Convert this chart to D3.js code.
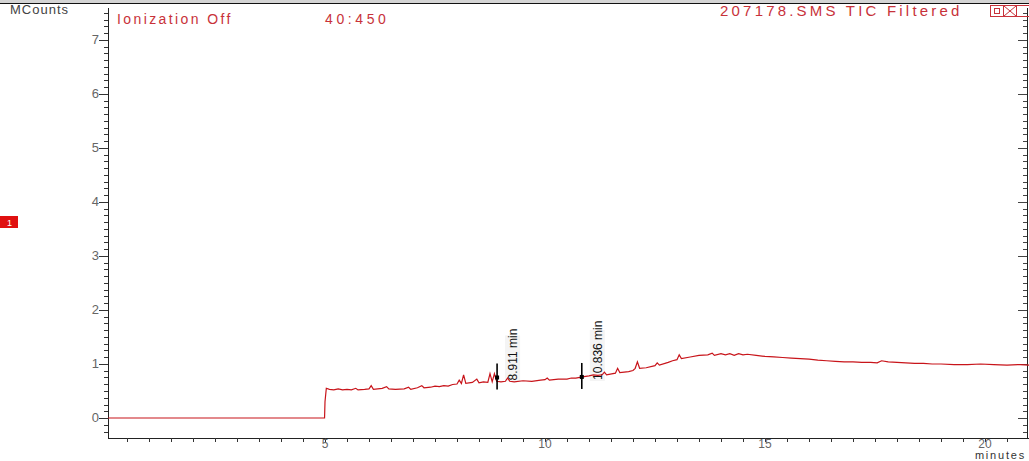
<!DOCTYPE html>
<html><head><meta charset="utf-8">
<script src="https://cdn.jsdelivr.net/npm/d3@7"></script>
<style>
html,body{margin:0;padding:0;background:#fff;}
svg{display:block;font-family:"Liberation Sans",Arial,sans-serif;}
</style></head>
<body><svg id="c" width="1029" height="461"></svg>
<script>
// ---- data ----
const times = [0.07,4.99,5.00,5.03,5.1,5.2,5.3,5.4,5.5,5.6,5.7,5.75,5.9,6.0,6.05,6.1,6.3,6.4,6.45,6.6,6.8,6.9,6.95,7.1,7.2,7.25,7.4,7.5,7.6,7.7,7.8,7.9,8.0,8.05,8.1,8.15,8.2,8.35,8.45,8.5,8.6,8.7,8.75,8.8,8.85,8.9,9.0,9.1,9.15,9.2,9.3,9.5,9.7,9.9,10.0,10.05,10.1,10.3,10.5,10.6,10.7,10.85,11.0,11.1,11.2,11.3,11.35,11.4,11.6,11.65,11.7,11.8,11.9,12.0,12.05,12.1,12.15,12.3,12.5,12.55,12.6,12.8,12.9,13.0,13.05,13.1,13.3,13.5,13.7,13.8,13.85,14.0,14.1,14.2,14.3,14.4,14.5,14.6,14.8,15.0,15.2,15.4,15.6,15.8,16.0,16.2,16.4,16.6,16.8,17.0,17.2,17.4,17.55,17.65,17.8,18.0,18.2,18.4,18.6,18.8,19.0,19.3,19.6,19.9,20.2,20.5,20.8,21.0];
const counts = [0,0,0.30,0.55,0.53,0.52,0.54,0.52,0.53,0.52,0.55,0.52,0.53,0.54,0.60,0.53,0.55,0.58,0.54,0.53,0.54,0.57,0.53,0.56,0.60,0.56,0.57,0.59,0.58,0.60,0.59,0.62,0.63,0.70,0.64,0.80,0.64,0.66,0.72,0.65,0.67,0.66,0.82,0.67,0.82,0.68,0.67,0.68,0.74,0.68,0.67,0.69,0.68,0.70,0.71,0.74,0.70,0.72,0.72,0.74,0.74,0.76,0.78,0.80,0.79,0.80,0.85,0.80,0.83,0.92,0.84,0.85,0.86,0.88,0.92,1.04,0.92,0.93,0.97,1.02,0.98,1.03,1.06,1.08,1.17,1.10,1.13,1.16,1.17,1.20,1.16,1.19,1.17,1.19,1.16,1.19,1.17,1.18,1.16,1.14,1.13,1.12,1.11,1.10,1.09,1.07,1.06,1.05,1.04,1.04,1.03,1.03,1.02,1.06,1.04,1.03,1.02,1.01,1.01,1.00,1.00,0.99,0.99,1.00,0.99,0.98,0.99,0.98];
const markerTimes = [8.911, 10.836];
const markerValues = [0.75, 0.76];
const markerLabels = ["8.911 min", "10.836 min"];
const yTickLabels = [0,1,2,3,4,5,6,7];
const xTickLabels = [5,10,15,20];

// ---- layout ----
const svg = d3.select("#c");
const x = d3.scaleLinear().domain([0, 21]).range([105, 1029]);
const y = d3.scaleLinear().domain([-0.37, 7.59]).range([438, 8]);
const axisX0 = 108;
const red = "#c8323a";

// top band
svg.append("rect").attr("x",0).attr("y",0).attr("width",1029).attr("height",3).attr("fill","#d4d4d4");
svg.append("line").attr("x1",0).attr("x2",1029).attr("y1",3.5).attr("y2",3.5).attr("stroke","#111").attr("stroke-width",1);

// left axis
const gy = svg.append("g").attr("transform",`translate(${axisX0},0)`);
gy.append("line").attr("x1",0.5).attr("x2",0.5).attr("y1",8).attr("y2",438).attr("stroke","#222");
const minorY = d3.range(-0.25, 7.6, 0.125).filter(v => Math.abs(v - Math.round(v)) > 1e-6);
gy.selectAll(".ym").data(minorY).join("line")
  .attr("x1",-4).attr("x2",0).attr("y1",d=>Math.round(y(d))+0.5).attr("y2",d=>Math.round(y(d))+0.5)
  .attr("stroke","#333");
gy.selectAll(".yM").data(yTickLabels).join("line")
  .attr("x1",-9).attr("x2",0).attr("y1",d=>Math.round(y(d))+0.5).attr("y2",d=>Math.round(y(d))+0.5)
  .attr("stroke","#333");
gy.selectAll(".yl").data(yTickLabels).join("text")
  .attr("x",-9).attr("y",d=>y(d)+4).attr("text-anchor","end")
  .attr("font-size",13).attr("fill","#666").text(d=>d);

// right axis
const gr = svg.append("g").attr("transform","translate(1027,0)");
gr.append("line").attr("x1",0.5).attr("x2",0.5).attr("y1",8).attr("y2",438).attr("stroke","#222");
gr.selectAll(".rm").data(minorY).join("line")
  .attr("x1",-4).attr("x2",0).attr("y1",d=>Math.round(y(d))+0.5).attr("y2",d=>Math.round(y(d))+0.5).attr("stroke","#444");
gr.selectAll(".rM").data(yTickLabels).join("line")
  .attr("x1",-9).attr("x2",0).attr("y1",d=>Math.round(y(d))+0.5).attr("y2",d=>Math.round(y(d))+0.5).attr("stroke","#444");

// bottom axis
const gx = svg.append("g").attr("transform","translate(0,438)");
gx.append("line").attr("x1",axisX0).attr("x2",1029).attr("y1",0.5).attr("y2",0.5).attr("stroke","#222");
const minorX = d3.range(0.5, 21.01, 0.5);
gx.selectAll(".xm").data(minorX).join("line")
  .attr("x1",d=>Math.round(x(d))+0.5).attr("x2",d=>Math.round(x(d))+0.5).attr("y1",0).attr("y2",4)
  .attr("stroke","#333");
gx.selectAll(".xl").data(xTickLabels).join("text")
  .attr("x",d=>x(d)).attr("y",9.5).attr("text-anchor","middle")
  .attr("font-size",12).attr("fill","#666").text(d=>d);
svg.append("text").attr("x",1026).attr("y",458.8).attr("text-anchor","end")
  .attr("font-size",11).attr("letter-spacing",1.8).attr("fill","#333").text("minutes");

// y title
svg.append("text").attr("x",10).attr("y",14).attr("font-size",13).attr("letter-spacing",1)
  .attr("fill","#444").text("MCounts");

// marker labels (behind trace)
markerTimes.forEach((t,i)=>{
  const cx = x(t), cy = y(markerValues[i]);
  const g = svg.append("g").attr("transform",`translate(${cx+20},${cy+3}) rotate(-90)`);
  g.append("rect").attr("x",-1).attr("y",-12).attr("width",markerLabels[i].length*4.9+2).attr("height",15)
    .attr("fill","#f4f4f4");
  g.append("text").attr("x",0).attr("y",0).attr("font-size",12)
    .attr("font-family","'Liberation Sans Narrow','Arial Narrow',sans-serif")
    .attr("fill","#111").text(markerLabels[i]);
});

// trace
const pts = times.map((t,i)=>[t, counts[i]]);
svg.append("path").datum(pts)
  .attr("d", d3.line().x(d=>x(d[0])).y(d=>y(d[1])))
  .attr("fill","none").attr("stroke","#c8141a").attr("stroke-width",1.2);

// markers
markerTimes.forEach((t,i)=>{
  const cx = x(t), cy = y(markerValues[i]);
  svg.append("line").attr("x1",cx).attr("x2",cx).attr("y1",cy-14).attr("y2",cy+12)
    .attr("stroke","#000").attr("stroke-width",1.6);
  svg.append("rect").attr("x",cx-2).attr("y",cy-2).attr("width",4).attr("height",4).attr("fill","#000");
});

// header texts
svg.append("text").attr("x",117).attr("y",24).attr("font-size",14).attr("letter-spacing",2.4)
  .attr("fill",red).text("Ionization Off");
svg.append("text").attr("x",325).attr("y",24).attr("font-size",14).attr("letter-spacing",3.6)
  .attr("fill",red).text("40:450");
svg.append("text").attr("x",720).attr("y",16).attr("font-size",15).attr("letter-spacing",3.2)
  .attr("fill",red).text("207178.SMS TIC Filtered");

// window icons
svg.append("rect").attr("x",990.5).attr("y",5.5).attr("width",13).attr("height",11).attr("fill","none").attr("stroke",red);
svg.append("rect").attr("x",994.5).attr("y",8.5).attr("width",5).attr("height",5).attr("fill","none").attr("stroke",red);
svg.append("rect").attr("x",1003.5).attr("y",5.5).attr("width",13).attr("height",11).attr("fill","none").attr("stroke",red);
svg.append("path").attr("d","M1004,6 L1016,16 M1016,6 L1004,16").attr("stroke",red);
svg.append("rect").attr("x",1016.5).attr("y",5.5).attr("width",13).attr("height",11).attr("fill","none").attr("stroke",red);

// red badge
svg.append("rect").attr("x",0).attr("y",216).attr("width",18).attr("height",12).attr("fill","#e01010");
svg.append("text").attr("x",7).attr("y",225.5).attr("font-size",9).attr("fill","#fff").text("1");
</script></body></html>
